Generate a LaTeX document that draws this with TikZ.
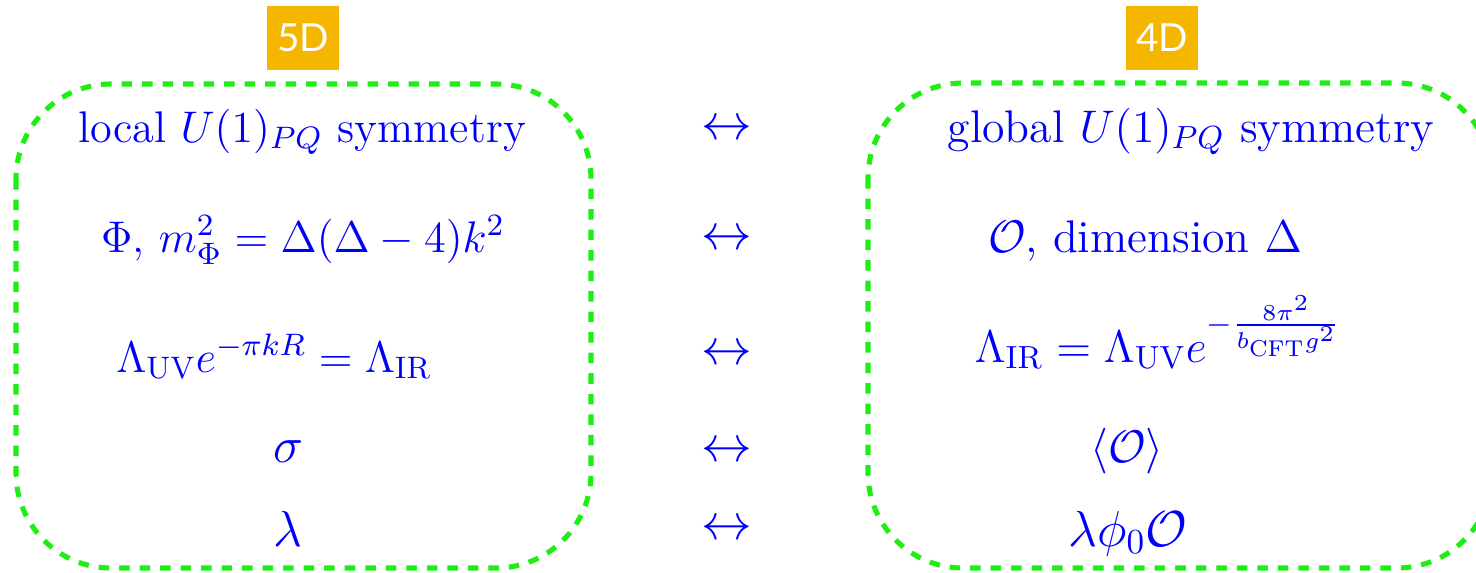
\RequirePackage{fix-cm}
\documentclass[tikz,border=0pt]{standalone}
\usepackage{amsmath,amssymb}
\usepackage{fontspec}
\newfontfamily\badgefont{Lato}
\usepackage{tikz}
\usetikzlibrary{arrows.meta,calc}

\definecolor{boxgreen}{RGB}{30,238,20}
\definecolor{badgeorange}{RGB}{245,182,0}
\definecolor{textblue}{RGB}{0,0,250}

\begin{document}
\begin{tikzpicture}[x=0.01cm, y=-0.01cm,
  entry/.style={text=textblue, inner sep=0pt, anchor=base, font=\fontsize{12.6}{15}\selectfont},
  rentry/.style={entry, font=\fontsize{13}{15.5}\selectfont},
  bigentry/.style={entry, font=\fontsize{14.4}{17}\selectfont},
  badge/.style={fill=badgeorange, text=white, minimum width=0.71cm, minimum height=0.64cm,
    inner sep=0pt, font=\badgefont\fontsize{11}{13}\selectfont},
  dashbox/.style={boxgreen, line width=1.45pt, dash pattern=on 0.105cm off 0.1cm, rounded corners=0.95cm}]

\useasboundingbox (0,0) rectangle (1476,572);
\clip (0,0) rectangle (1476,572);

\draw[dashbox] (16,84) rectangle (591,568);
\draw[dashbox] (868,83) rectangle (1492,568);

\node[badge] (five) at (303,38) {5D};
\node[badge] (four) at (1162,38) {4D};

\node[entry] (l1) at (302,142) {local $U(1)_{PQ}$ symmetry};
\node[entry] (l2) at (303,252) {$\Phi$, $m_\Phi^2=\Delta(\Delta-4)k^2$};
\node[entry] (l3) at (274,372) {$\Lambda_{\mathrm{UV}}e^{-\pi kR}=\Lambda_{\mathrm{IR}}$};
\node[bigentry] (l4) at (288,462) {$\sigma$};
\node[bigentry] (l5) at (288,546) {$\lambda$};

\node[rentry] (r1) at (1191,142) {global $U(1)_{PQ}$ symmetry};
\node[rentry] (r2) at (1145,252) {$\mathcal{O}$, dimension $\Delta$};
\node[rentry] (r3) at (1158,362) {$\Lambda_{\mathrm{IR}}=\Lambda_{\mathrm{UV}}e^{-\frac{8\pi^2}{b_{\mathrm{CFT}}g^2}}$};
\node[rentry] (r4) at (1127,462) {$\langle\mathcal{O}\rangle$};
\node[bigentry] (r5) at (1128,546) {$\lambda\phi_0\mathcal{O}$};

\foreach \i/\y in {1/130,2/240,3/355,4/452,5/530}
{
    \node[text=textblue, font=\fontsize{14.4}{17}\selectfont] (arr\i) at (727,\y) {$\leftrightarrow$};
}

\end{tikzpicture}
\end{document}
